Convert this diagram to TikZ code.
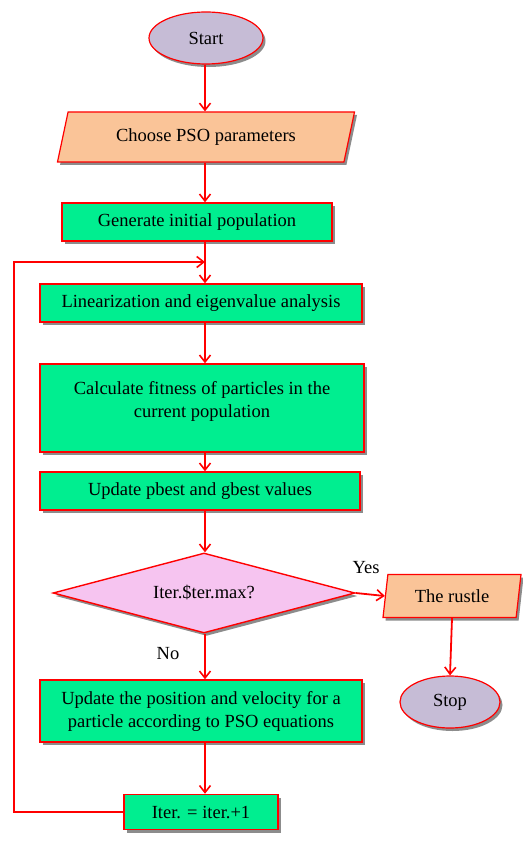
\documentclass[tikz,border=0pt]{standalone}
\usepackage{fontspec}
\setmainfont{Liberation Serif}
\usetikzlibrary{shapes.geometric,arrows.meta,shadows}
\definecolor{boxgreen}{RGB}{0,238,144}
\definecolor{lav}{RGB}{198,188,214}
\definecolor{peach}{RGB}{250,196,152}
\definecolor{pinkf}{RGB}{246,196,240}
\begin{document}
\begin{tikzpicture}[x=1pt,y=-1pt,
  every node/.style={font=\fontsize{18.5}{23}\selectfont, text=black},
  shd/.style={general shadow={shadow xshift=2.5pt,shadow yshift=-3pt,fill=black!45}},
  procbox/.style={rectangle, draw=red, line width=1.4pt, fill=boxgreen, shd, align=center, inner sep=2pt},
  term/.style={ellipse, draw=red, line width=1.2pt, fill=lav, shd, inner sep=0pt},
  iobox/.style={trapezium, trapezium stretches body=true, draw=red, line width=1.2pt, fill=peach, shd, inner sep=2pt},
  decbox/.style={diamond, aspect=3.8, draw=red, line width=1.4pt, fill=pinkf, shd, inner sep=0pt},
  flow/.style={draw=red, line width=1.8pt, -{Straight Barb[length=7pt,width=11pt,line width=1.6pt]}},
  lbl/.style={inner sep=1pt}
]
\useasboundingbox (0,0) rectangle (522,842);
\coordinate (ax) at (205,0);

\node[term, minimum width=114pt, minimum height=52pt] (start) at (206,38) {Start};
\node[iobox, trapezium left angle=63, trapezium right angle=117, minimum width=297pt, minimum height=50pt] (choose) at (206,137) {Choose PSO parameters};
\node[procbox, minimum width=270pt, minimum height=38pt] (gen) at (197,222) {Generate initial population};
\node[procbox, minimum width=322pt, minimum height=38pt] (lin) at (201,303) {Linearization and eigenvalue analysis};
\node[procbox, minimum width=324pt, minimum height=88pt] (calc) at (202,408) {Calculate fitness of particles in the\\current population\\[-5pt]\rule{0pt}{0pt}};
\node[procbox, minimum width=320pt, minimum height=38pt] (upd) at (200,491) {Update pbest and gbest values};
\node[decbox, minimum width=302pt, minimum height=80pt] (dia) at (204,593) {Iter.\$ter.max?};
\node[iobox, trapezium left angle=74, trapezium right angle=106, minimum width=138pt, minimum height=43pt] (rus) at (452,596) {The rustle};
\node[term, minimum width=100pt, minimum height=52pt] (stop) at (450,702) {Stop};
\node[procbox, minimum width=322pt, minimum height=62pt] (pos) at (201,711) {Update the position and velocity for a\\particle according to PSO equations};
\node[procbox, minimum width=154pt, minimum height=35pt] (iter) at (201,812) {Iter. = iter.+1};

\node[lbl] (yes) at (366,568) {Yes};
\node[lbl] (no) at (168,654) {No};

\coordinate (lft) at (14,262);
\coordinate (join) at (205,262);

\draw[flow] (start.south -| ax) -- (choose.north -| ax);
\draw[flow] (choose.south -| ax) -- (gen.north -| ax);
\draw[flow] (gen.south -| ax) -- (lin.north -| ax);
\draw[flow] (lin.south -| ax) -- (calc.north -| ax);
\draw[flow] (calc.south -| ax) -- (upd.north -| ax);
\draw[flow] (upd.south -| ax) -- (dia.north -| ax);
\draw[flow] (dia.south -| ax) -- (pos.north -| ax);
\draw[flow] (pos.south -| ax) -- (iter.north -| ax);
\draw[flow] (dia.east) -- (rus.west);
\draw[flow] (rus.south) -- (stop.north);
\draw[flow] (iter.west) -| (lft) -- (join);
\end{tikzpicture}
\end{document}
